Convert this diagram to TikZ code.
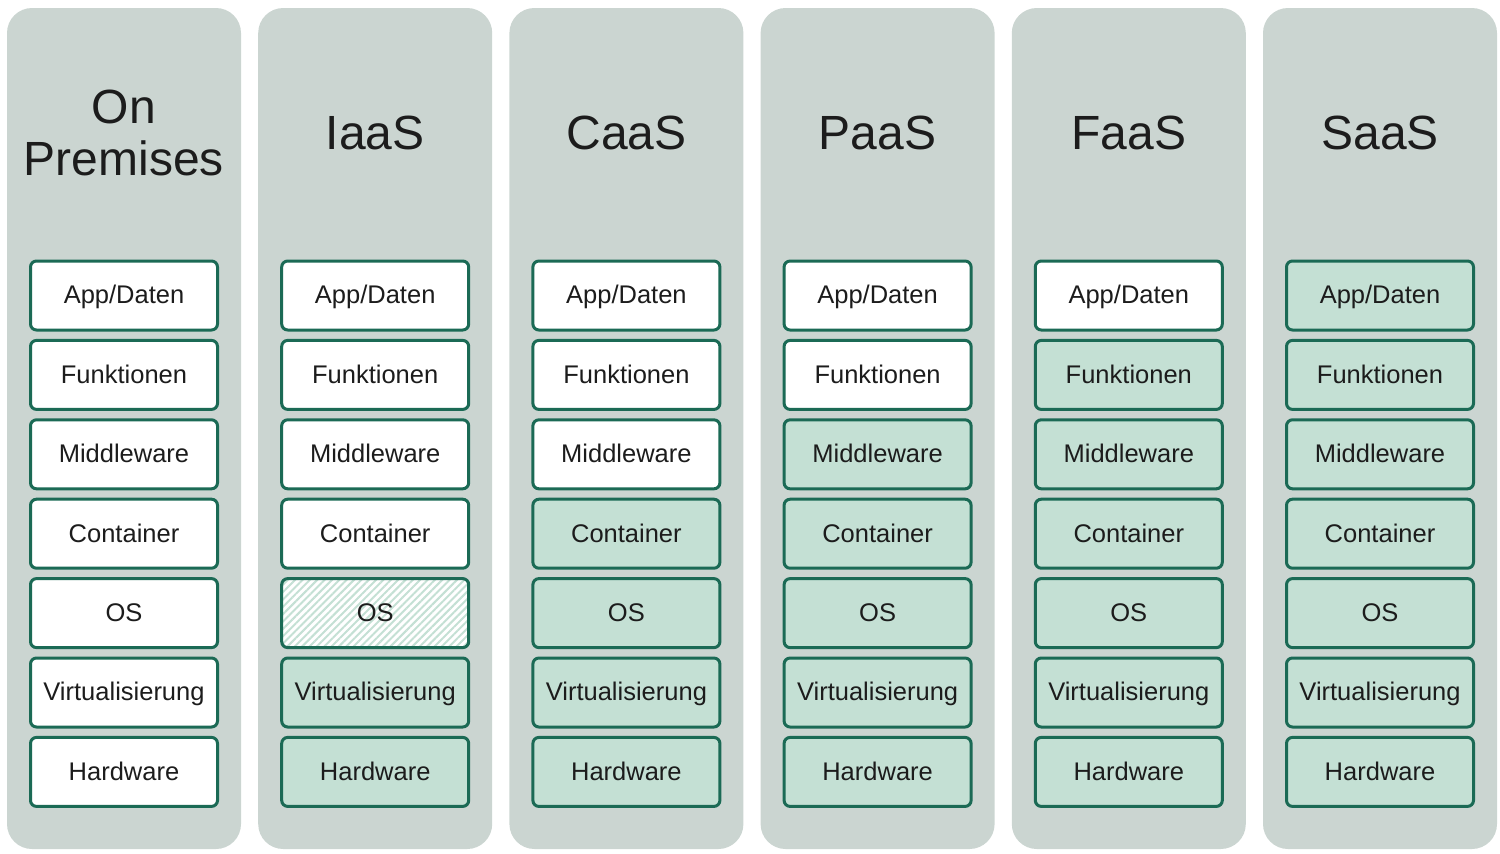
\documentclass[tikz,border=0pt]{standalone}
\usepackage{fontspec}
\setmainfont{Liberation Sans}
\usepackage{xcolor}
\usepackage{tikz}
\usetikzlibrary{patterns.meta}
\definecolor{colgray}{HTML}{CBD5D1}
\definecolor{laygreen}{HTML}{C4E0D4}
\definecolor{edgegreen}{HTML}{1B6A55}
\definecolor{txtdark}{HTML}{1C1C1C}

\begin{document}
\begin{tikzpicture}
    [%%%%%%%%%%%%%%%%%%%%%%%%%%%%%%
        x=0.5pt,y=-0.5pt,
        column/.style={fill=colgray,rounded corners=12.5pt,inner sep=0pt,
            minimum width=117pt,minimum height=420.5pt},
        layer/.style={draw=edgegreen,line width=1.5pt,rounded corners=3pt,inner sep=0pt,
            minimum width=93.5pt,minimum height=34.5pt,text=txtdark,
            text height=8.4pt,text depth=0pt,
            font=\fontsize{12.75}{14}\selectfont},
        own/.style={layer,fill=white},
        managed/.style={layer,fill=laygreen},
        shared/.style={layer,preaction={fill=white},
            pattern={Lines[angle=45,distance=2.6pt,line width=1pt]},pattern color=laygreen},
        title/.style={text=txtdark,align=center,font=\fontsize{24}{26}\selectfont},
    ]%%%%%%%%%%%%%%%%%%%%%%%%%%%%%%

\useasboundingbox (0,0) rectangle (1500,853);

\foreach \name/\n [count=\i from 0] in {{On\\Premises}/0,IaaS/2,CaaS/4,PaaS/5,FaaS/6,SaaS/7}{
	\pgfmathsetmacro{\cx}{124+\i*251.2}
	\node[column] (col\i) at (\cx,428.5){ };
	\node[title] (t\i) at (\cx,133){\name};
	\foreach \lay [count=\j] in {{App/Daten},Funktionen,Middleware,Container,OS,Virtualisierung,Hardware}{
		\def\sty{own}
		\ifnum\j>\numexpr7-\n\relax \def\sty{managed}\fi
		\ifnum\i=1 \ifnum\j=5 \def\sty{shared}\fi\fi
		\node[\sty] (c\i-l\j) at (\cx,{295.5+(\j-1)*79.4}){\lay};
	}
}

\end{tikzpicture}
\end{document}
